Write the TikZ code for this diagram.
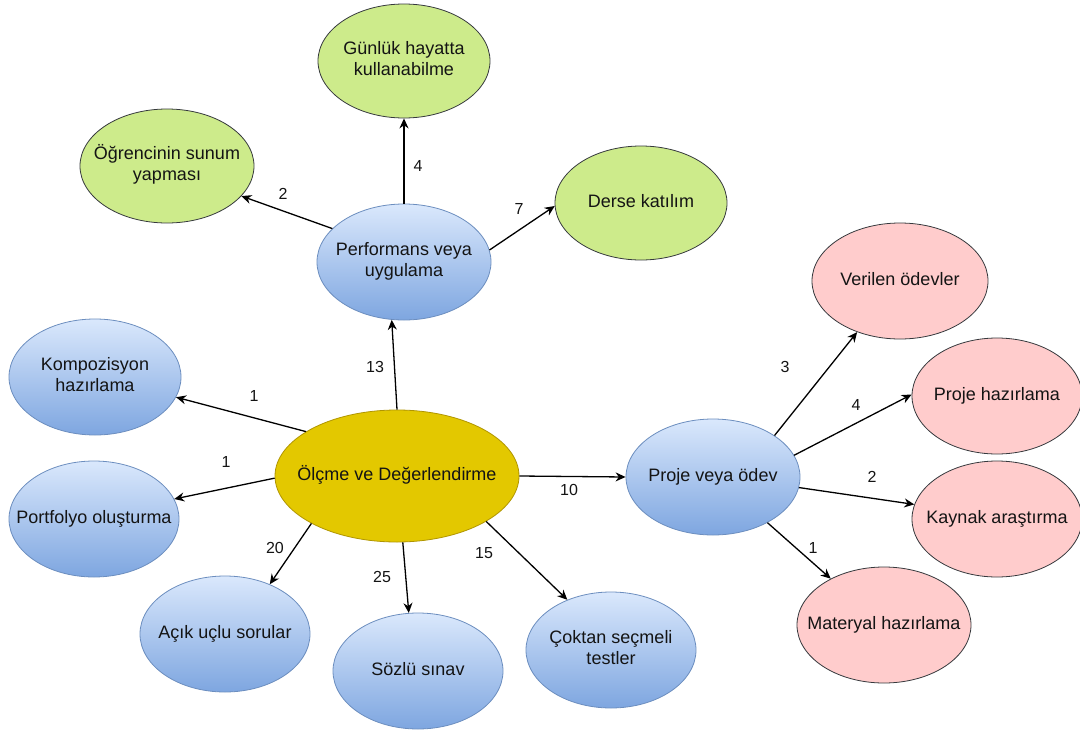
\documentclass[tikz,border=0pt]{standalone}
\usepackage{fontspec}
\setmainfont{Liberation Sans}
\usetikzlibrary{shapes.geometric,arrows.meta}
\definecolor{txt}{HTML}{141414}
\definecolor{bluetop}{HTML}{DAE8FC}
\definecolor{bluebot}{HTML}{7EA6E0}
\definecolor{blueln}{HTML}{6C8EBF}
\definecolor{greenfill}{HTML}{CDEB8B}
\definecolor{pinkfill}{HTML}{FFCCCC}
\definecolor{darkln}{HTML}{36393D}
\definecolor{goldfill}{HTML}{E3C800}
\definecolor{goldln}{HTML}{B09500}
% zero-width centred label, so the ellipse keeps its set size
\newcommand{\lbl}[1]{\makebox[0pt]{\begin{tabular}{@{}c@{}}#1\end{tabular}}}
\tikzset{
  oval/.style={ellipse, inner sep=0pt, text=txt,
    font=\fontsize{18}{21}\selectfont, line width=0.8pt},
  bluenode/.style={oval, draw=blueln, top color=bluetop, bottom color=bluebot,
    minimum width=172pt, minimum height=116pt},
  greennode/.style={oval, draw=darkln, fill=greenfill,
    minimum width=172pt, minimum height=114pt},
  pinknode/.style={oval, draw=darkln, fill=pinkfill,
    minimum width=172pt, minimum height=116pt},
  goldnode/.style={oval, draw=goldln, fill=goldfill,
    minimum width=244pt, minimum height=132pt},
  arr/.style={draw=black, line width=1.3pt, -{Stealth[length=10pt,width=9pt]}},
  num/.style={font=\fontsize{16}{18}\selectfont, text=txt, inner sep=0pt}
}
\begin{document}
\begin{tikzpicture}[x=1pt,y=-1pt]
\useasboundingbox[fill=white] (0,0) rectangle (1080,734);

% central node
\node[goldnode] (c) at (397,476) {\lbl{Ölçme ve Değerlendirme}};

% performance branch
\node[bluenode, minimum width=174pt] (perf) at (404,262) {\lbl{Performans veya\\uygulama}};
\node[greennode] (gun) at (404,61) {\lbl{Günlük hayatta\\kullanabilme}};
\node[greennode, minimum width=174pt] (ogr) at (167,166) {\lbl{Öğrencinin sunum\\yapması}};
\node[greennode] (derse) at (641,203) {\lbl{Derse katılım}};

% left and bottom leaves
\node[bluenode] (komp) at (95,377) {\lbl{Kompozisyon\\hazırlama}};
\node[bluenode, minimum width=170pt] (port) at (94,519) {\lbl{Portfolyo oluşturma}};
\node[bluenode, minimum width=170pt] (acik) at (225,634) {\lbl{Açık uçlu sorular}};
\node[bluenode, minimum width=170pt] (sozlu) at (418,671) {\lbl{Sözlü sınav}};
\node[bluenode, minimum width=170pt] (cok) at (611,650) {\lbl{Çoktan seçmeli\\testler}};

% project branch
\node[bluenode, minimum width=174pt] (proje) at (713,477) {\lbl{Proje veya ödev}};
\node[pinknode, minimum width=176pt] (ver) at (900,281) {\lbl{Verilen ödevler}};
\node[pinknode, minimum width=170pt] (phaz) at (997,396) {\lbl{Proje hazırlama}};
\node[pinknode, minimum width=170pt] (kay) at (997,519) {\lbl{Kaynak araştırma}};
\node[pinknode, minimum width=174pt] (mat) at (884,625) {\lbl{Materyal hazırlama}};

% connectors
\draw[arr] (c.90) -- (perf.258);
\draw[arr] (c.154) -- (komp.346);
\draw[arr] (c.181) -- (port.14);
\draw[arr] (c.209) -- (acik.48);
\draw[arr] (c.275) -- (sozlu.99);
\draw[arr] (c.333) -- (cok.131);
\draw[arr] (c.0) -- (proje.180);

\draw[arr] (perf.155) -- (ogr.338);
\draw[arr] (perf.90) -- (gun.270);
\draw[arr] (perf.8) -- (derse.182);

\draw[arr] (proje.34) -- (ver.230);
\draw[arr] (proje.15) -- (phaz.179);
\draw[arr] (proje.353) -- (kay.170);
\draw[arr] (proje.320) -- (mat.139);

% counts
\node[num] (n13) at (375,367) {13};
\node[num] (n1a) at (254,396) {1};
\node[num] (n1b) at (226,462) {1};
\node[num] (n20) at (275,548) {20};
\node[num] (n25) at (382,577) {25};
\node[num] (n15) at (484,553) {15};
\node[num] (n10) at (569,490) {10};
\node[num] (n2a) at (283,194) {2};
\node[num] (n4a) at (418,166) {4};
\node[num] (n7) at (519,209) {7};
\node[num] (n3) at (785,367) {3};
\node[num] (n4b) at (856,405) {4};
\node[num] (n2b) at (872,477) {2};
\node[num] (n1c) at (813,548) {1};
\end{tikzpicture}
\end{document}
